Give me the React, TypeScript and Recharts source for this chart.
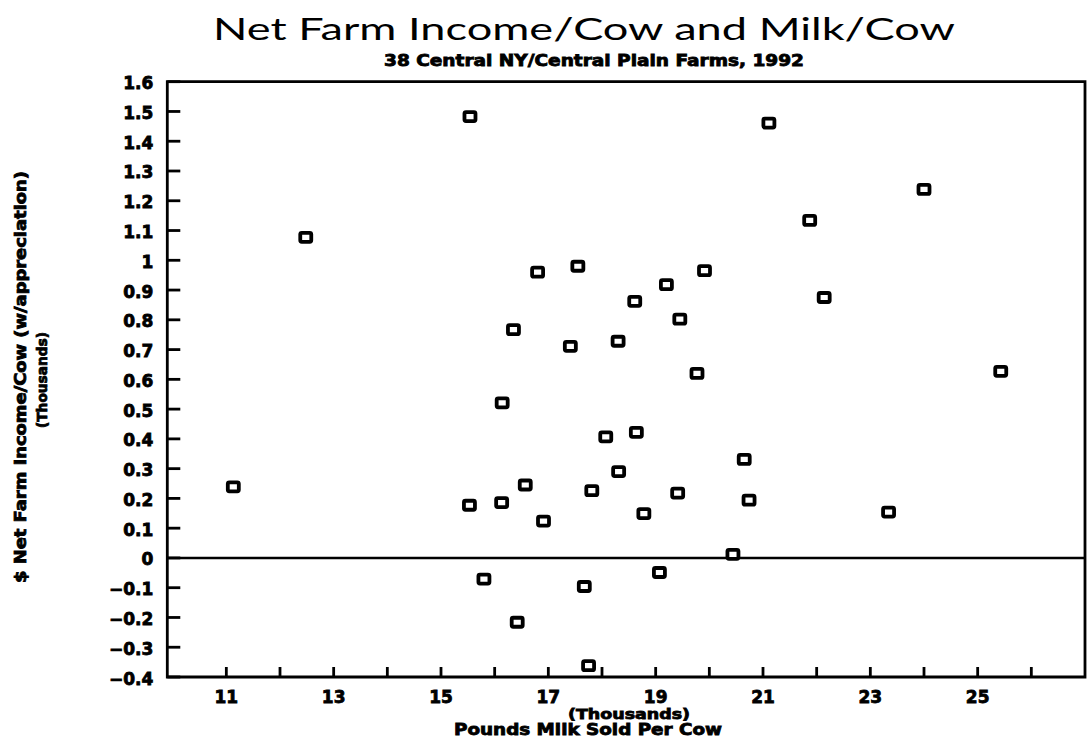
import React from 'react';
import { ScatterChart, Scatter, XAxis, YAxis, ReferenceLine, ReferenceArea } from 'recharts';

// Pounds milk sold per cow (thousands)
const milkPerCow = [
  15.54, 12.48, 16.8, 17.55, 18.61, 16.35, 17.41, 18.3, 16.14, 21.11,
  24.0, 21.87, 19.91, 19.2, 19.45, 22.14, 19.77, 25.43, 18.07, 18.64,
  18.31, 11.13, 16.57, 17.81, 15.53, 16.13, 16.91, 20.65, 19.41, 20.74,
  18.78, 23.34, 20.44, 15.8, 17.67, 16.42, 17.75, 19.07,
];
// $ Net farm income per cow, w/ appreciation (thousands)
const incomePerCow = [
  1.483, 1.077, 0.96, 0.98, 0.862, 0.767, 0.711, 0.728, 0.521, 1.461,
  1.238, 1.134, 0.965, 0.918, 0.802, 0.875, 0.62, 0.627, 0.407, 0.422,
  0.29, 0.239, 0.245, 0.226, 0.177, 0.186, 0.124, 0.331, 0.218, 0.194,
  0.149, 0.154, 0.012, -0.071, -0.096, -0.216, -0.362, -0.049,
];

const xTicks = [11, 12, 13, 14, 15, 16, 17, 18, 19, 20, 21, 22, 23, 24, 25, 26];
const xLabeledTicks = [11, 13, 15, 17, 19, 21, 23, 25];
const yTicks = [
  -0.4, -0.3, -0.2, -0.1, 0, 0.1, 0.2, 0.3, 0.4, 0.5, 0.6, 0.7, 0.8, 0.9, 1,
  1.1, 1.2, 1.3, 1.4, 1.5, 1.6,
];

const titleText = 'Net Farm Income/Cow and Milk/Cow';
const subtitleText = '38 Central NY/Central Plain Farms, 1992';
const xTitleTop = '(Thousands)';
const xTitleBottom = 'Pounds Milk Sold Per Cow';
const yTitleMain = '$ Net Farm Income/Cow (w/appreciation)';
const yTitleSub = '(Thousands)';

const data = milkPerCow.map((x, i) => ({ x, y: incomePerCow[i] }));

const W = 1089;
const H = 747;

const boldFont: React.CSSProperties = {
  fontFamily: '"DejaVu Sans", sans-serif',
  fontWeight: 700,
  fill: '#000',
  stroke: '#000',
  strokeWidth: 0.8,
};

const fmtY = (v: number) => {
  const s = String(parseFloat(v.toFixed(2)));
  return s.replace('-', '\u2212');
};

const YTick = (props: any) => {
  const { x, y, payload } = props;
  return (
    <g>
      <line x1={x} y1={y} x2={x + 13} y2={y} stroke="#000" strokeWidth={2.8} />
      <text x={x - 14} y={y + 1.5} textAnchor="end" dominantBaseline="central" style={{ ...boldFont, fontSize: 17 }}>
        {fmtY(payload.value)}
      </text>
    </g>
  );
};

const XTick = (props: any) => {
  const { x, y, payload } = props;
  const show = xLabeledTicks.includes(payload.value);
  return (
    <g>
      <line x1={x} y1={y} x2={x} y2={y - 10} stroke="#000" strokeWidth={2.8} />
      {show && (
        <text x={x} y={y + 20} textAnchor="middle" dominantBaseline="central" style={{ ...boldFont, fontSize: 17 }}>
          {payload.value}
        </text>
      )}
    </g>
  );
};

const SquareMarker = (props: any) => {
  const { cx, cy } = props;
  if (cx == null || cy == null) return null;
  return (
    <rect x={cx - 5.5} y={cy - 4.5} width={11} height={9} rx={1.5} fill="#fff" stroke="#000" strokeWidth={3.8} />
  );
};

export default function App() {
  return (
    <div style={{ position: 'absolute', left: 0, top: 0, width: W, height: H, background: '#fff' }}>
      <ScatterChart
        width={W}
        height={H}
        margin={{ top: 81.7, right: 4, bottom: 40, left: 107.3 }}
      >
        <XAxis
          type="number"
          dataKey="x"
          domain={[9.9, 27]}
          ticks={xTicks}
          interval={0}
          allowDataOverflow
          axisLine={false}
          tickLine={false}
          tickSize={0}
          tickMargin={0}
          height={30}
          tick={<XTick />}
        />
        <YAxis
          type="number"
          dataKey="y"
          domain={[-0.4, 1.6]}
          ticks={yTicks}
          interval={0}
          allowDataOverflow
          axisLine={false}
          tickLine={false}
          tickSize={0}
          tickMargin={0}
          width={60}
          tick={<YTick />}
        />
        <ReferenceArea
          x1={9.9}
          x2={27}
          y1={-0.4}
          y2={1.6}
          fill="none"
          stroke="#000"
          strokeWidth={2.8}
          ifOverflow="visible"
        />
        <ReferenceLine y={0} stroke="#000" strokeWidth={2.6} />
        <Scatter data={data} isAnimationActive={false} shape={<SquareMarker />} />
      </ScatterChart>
      <svg
        width={W}
        height={H}
        style={{ position: 'absolute', left: 0, top: 0, pointerEvents: 'none' }}
      >
        <text
          x={584}
          y={28}
          textAnchor="middle"
          dominantBaseline="central"
          textLength={742}
          lengthAdjust="spacingAndGlyphs"
          style={{ fontFamily: 'Lato, "Open Sans", sans-serif', fontWeight: 400, fontSize: 30, fill: '#000' }}
        >
          {titleText}
        </text>
        <text
          x={594}
          y={61}
          textAnchor="middle"
          dominantBaseline="central"
          textLength={420}
          lengthAdjust="spacingAndGlyphs"
          style={{ ...boldFont, fontSize: 15 }}
        >
          {subtitleText}
        </text>
        <text
          x={629}
          y={714}
          textAnchor="middle"
          dominantBaseline="central"
          textLength={122}
          lengthAdjust="spacingAndGlyphs"
          style={{ ...boldFont, fontSize: 14 }}
        >
          {xTitleTop}
        </text>
        <text
          x={588}
          y={730}
          textAnchor="middle"
          dominantBaseline="central"
          textLength={268}
          lengthAdjust="spacingAndGlyphs"
          style={{ ...boldFont, fontSize: 15 }}
        >
          {xTitleBottom}
        </text>
        <text
          x={21}
          y={377}
          transform="rotate(-90, 21, 377)"
          textAnchor="middle"
          dominantBaseline="central"
          textLength={412}
          lengthAdjust="spacingAndGlyphs"
          style={{ ...boldFont, fontSize: 15 }}
        >
          {yTitleMain}
        </text>
        <text
          x={42}
          y={380}
          transform="rotate(-90, 42, 380)"
          textAnchor="middle"
          dominantBaseline="central"
          textLength={96}
          lengthAdjust="spacingAndGlyphs"
          style={{ ...boldFont, fontSize: 14 }}
        >
          {yTitleSub}
        </text>
      </svg>
    </div>
  );
}
